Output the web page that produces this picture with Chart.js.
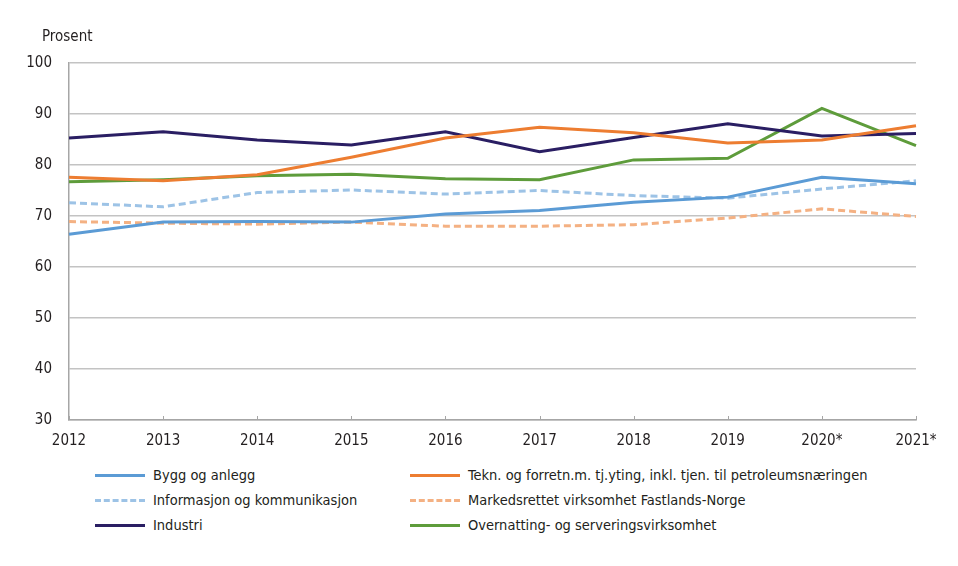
<!DOCTYPE html>
<html>
<head>
<meta charset="utf-8">
<script src="https://cdn.jsdelivr.net/npm/chart.js@4/dist/chart.umd.min.js"></script>
<style>
  body { margin: 0; background: #fff; font-family: "Liberation Sans Narrow", "DejaVu Sans Condensed", sans-serif; color: #231f20; }
  #wrap { position: relative; width: 958px; height: 566px; }
  #chart { position: absolute; left: 0; top: 0; }
  #unit { position: absolute; left: 42px; top: 27px; font-size: 15px; }
  #legend { position: absolute; left: 95px; top: 466px; display: grid; grid-template-columns: 315px 480px; row-gap: 7px; font-size: 14.5px; }
  .item { display: flex; align-items: center; height: 18px; }
  .swatch { width: 50px; height: 0; border-top-width: 3px; border-top-style: solid; margin-right: 8px; }
</style>
</head>
<body>
<div id="wrap">
  <canvas id="chart" width="958" height="460"></canvas>
  <div id="unit">Prosent</div>
  <div id="legend"></div>
</div>
<script>
const years = ['2012', '2013', '2014', '2015', '2016', '2017', '2018', '2019', '2020*', '2021*'];

const bygg = [66.4, 68.8, 68.9, 68.8, 70.4, 71.1, 72.7, 73.7, 77.6, 76.3];
const tekn = [77.6, 76.9, 78.1, 81.5, 85.3, 87.4, 86.3, 84.3, 84.9, 87.7];
const info = [72.6, 71.8, 74.6, 75.1, 74.3, 75.0, 74.0, 73.5, 75.3, 76.9];
const marked = [68.9, 68.6, 68.4, 68.8, 68.0, 68.0, 68.3, 69.6, 71.4, 69.9];
const industri = [85.3, 86.5, 84.9, 83.9, 86.5, 82.6, 85.4, 88.1, 85.7, 86.2];
const overnatting = [76.7, 77.1, 77.9, 78.2, 77.3, 77.1, 81.0, 81.3, 91.1, 83.8];

const series = [
    { label: 'Bygg og anlegg', data: bygg, color: '#5b9bd5', dash: [] },
    { label: 'Tekn. og forretn.m. tj.yting, inkl. tjen. til petroleumsnæringen', data: tekn, color: '#ed7d31', dash: [] },
    { label: 'Informasjon og kommunikasjon', data: info, color: '#9dc3e6', dash: [7, 4] },
    { label: 'Markedsrettet virksomhet Fastlands-Norge', data: marked, color: '#f4b183', dash: [7, 4] },
    { label: 'Industri', data: industri, color: '#2a1e63', dash: [] },
    { label: 'Overnatting- og serveringsvirksomhet', data: overnatting, color: '#5e9c3b', dash: [] }
];

const fontFamily = '"Liberation Sans Narrow", "DejaVu Sans Condensed", sans-serif';

// small ticks pointing up into the plot at each year
const innerTicks = {
    id: 'innerTicks',
    afterDraw(chart) {
        const ctx = chart.ctx;
        const x = chart.scales.x;
        const bottom = chart.chartArea.bottom;
        ctx.save();
        ctx.strokeStyle = '#a6a6a6';
        ctx.lineWidth = 1;
        years.forEach((y, i) => {
            const px = Math.round(x.getPixelForValue(i)) + 0.5;
            ctx.beginPath();
            ctx.moveTo(px, bottom);
            ctx.lineTo(px, bottom - 4);
            ctx.stroke();
        });
        ctx.restore();
    }
};

new Chart(document.getElementById('chart'), {
    type: 'line',
    data: {
        labels: years,
        datasets: series.map(s => ({
            label: s.label,
            data: s.data,
            borderColor: s.color,
            borderDash: s.dash,
            borderWidth: 3,
            pointRadius: 0,
            tension: 0,
            fill: false
        }))
    },
    options: {
        responsive: false,
        animation: false,
        layout: { padding: { top: 63, right: 42, left: 0, bottom: 0 } },
        plugins: { legend: { display: false }, tooltip: { enabled: false } },
        scales: {
            x: {
                offset: false,
                grid: { display: false, drawTicks: false },
                border: { color: '#a6a6a6', width: 1.5 },
                ticks: { color: '#231f20', font: { family: fontFamily, size: 15 }, padding: 12, maxRotation: 0, autoSkip: false },
                afterFit: scale => { scale.height = 40; }
            },
            y: {
                min: 30,
                max: 100,
                grid: { color: '#c3c3c3', lineWidth: 1.5, drawTicks: false },
                border: { color: '#a6a6a6', width: 1.5 },
                ticks: { stepSize: 10, color: '#231f20', font: { family: fontFamily, size: 15 }, padding: 17 },
                afterFit: scale => { scale.width = 69; }
            }
        }
    },
    plugins: [innerTicks]
});

const legend = document.getElementById('legend');
series.forEach(s => {
    const item = document.createElement('div');
    item.className = 'item';
    const sw = document.createElement('span');
    sw.className = 'swatch';
    sw.style.borderTopColor = s.color;
    if (s.dash.length) sw.style.borderTopStyle = 'dashed';
    item.appendChild(sw);
    item.appendChild(document.createTextNode(s.label));
    legend.appendChild(item);
});
</script>
</body>
</html>
